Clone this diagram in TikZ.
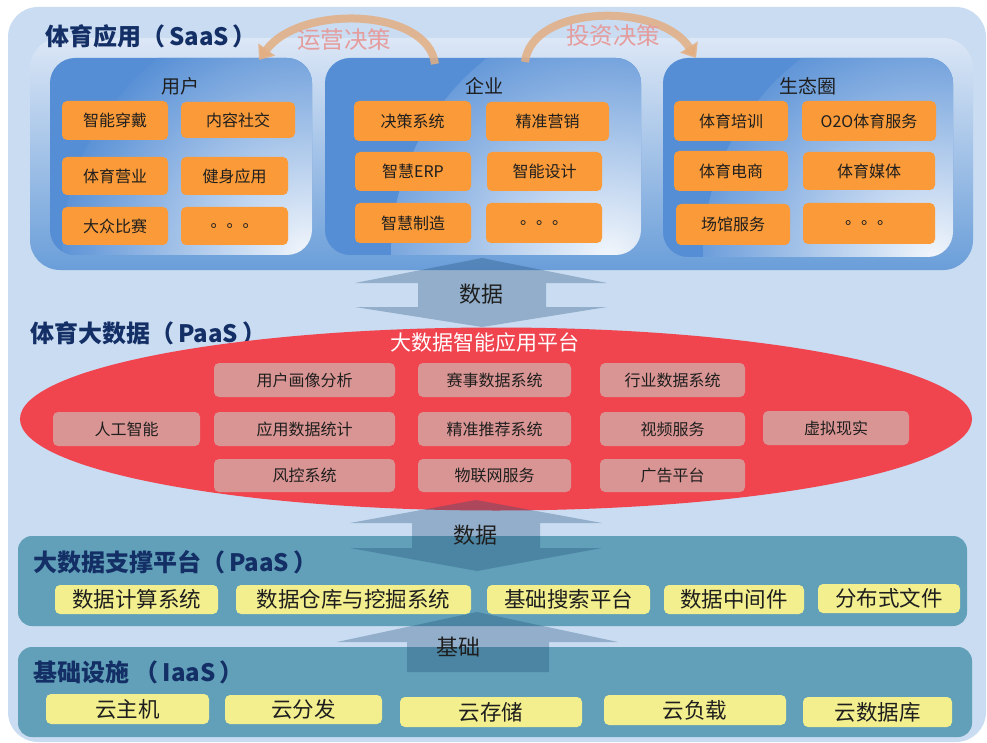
\documentclass[tikz,border=0pt]{standalone}
\usepackage{fontspec}
\setmainfont{Noto Sans CJK SC}
\usetikzlibrary{shapes.geometric,arrows.meta}
\definecolor{bgblue}{HTML}{C9DCF1}
\definecolor{saastop}{HTML}{DCE7F6}
\definecolor{saasmid}{HTML}{A9C5EA}
\definecolor{saasbot}{HTML}{6A9ED9}
\definecolor{panelblue}{HTML}{558ED5}
\definecolor{orangebox}{HTML}{FA9A38}
\definecolor{ellred}{HTML}{F0444F}
\definecolor{pinkbox}{HTML}{D99593}
\definecolor{tealpanel}{HTML}{61A0B8}
\definecolor{yellowbox}{HTML}{F3EF8F}
\definecolor{navy}{HTML}{132F66}
\definecolor{txtdark}{HTML}{1E1E1E}
\definecolor{arrowgray}{HTML}{1F4E79}
\definecolor{arrowtan}{HTML}{E3AE82}
\definecolor{decpink}{HTML}{E59C9C}
\newcommand\mkbox[7]{%
  \pgfmathsetmacro\mycx{(#3+#5)/2}\pgfmathsetmacro\mycy{(#4+#6)/2}%
  \pgfmathsetmacro\myww{#5-#3}\pgfmathsetmacro\myhh{#6-#4}%
  \node[#1, minimum width=\myww pt, minimum height=\myhh pt] (#2) at (\mycx,\mycy) {#7};}
\begin{document}
\begin{tikzpicture}[x=1pt,y=-1pt,
  obox/.style={fill=orangebox, rounded corners=5pt, inner sep=0pt, text=txtdark, font=\fontsize{16}{16}\selectfont},
  pbox/.style={fill=pinkbox, rounded corners=5pt, inner sep=0pt, text=txtdark, font=\fontsize{16}{16}\selectfont},
  ybox/.style={fill=yellowbox, rounded corners=5pt, inner sep=0pt, text=txtdark, font=\fontsize{21.5}{21.5}\selectfont},
  panel/.style={fill=panelblue, rounded corners=25pt, inner sep=0pt,
    path picture={\shade[inner color=white!92!panelblue, outer color=panelblue] (path picture bounding box.south east) circle[radius=250pt];}},
  teal/.style={fill=tealpanel, rounded corners=14pt, inner sep=0pt},
  title/.style={anchor=west, inner sep=0pt, text=navy, font=\fontsize{24}{24}\selectfont\bfseries},
  plabel/.style={text=txtdark, font=\fontsize{19}{19}\selectfont},
  biglabel/.style={text=txtdark, font=\fontsize{22}{22}\selectfont},
  dblarrow/.style={fill=arrowgray, fill opacity=0.32},
  curved/.style={draw=arrowtan, line width=8pt, draw opacity=0.85, -{Triangle[width=20pt,length=13pt]}},
  declabel/.style={text=decpink, font=\fontsize{23.5}{23.5}\selectfont}
]
\useasboundingbox (0,0) rectangle (987,743);
\fill[white] (0,0) rectangle (987,743);
\fill[bgblue, rounded corners=30pt] (8,7) rectangle (986,742);

% ---------- SaaS layer ----------
\shade[top color=saastop, middle color=saasmid, bottom color=saasbot, rounded corners=30pt] (30,38) rectangle (973,270);
\node[title] (t1) at (45,36) {体育应用（\,SaaS\,）};

\mkbox{panel}{pu}{50}{58}{312}{255}{}
\mkbox{panel}{pe}{325}{58}{641}{255}{}
\mkbox{panel}{ps}{663}{58}{953}{257}{}
\node[plabel] (lu) at (180,86) {用户};
\node[plabel] (le) at (484,86) {企业};
\node[plabel] (ls) at (808,86) {生态圈};

\mkbox{obox}{u1}{62}{101}{168}{140}{智能穿戴}
\mkbox{obox}{u2}{181}{102}{295}{138}{内容社交}
\mkbox{obox}{u3}{62}{157}{168}{195}{体育营业}
\mkbox{obox}{u4}{181}{157}{288}{195}{健身应用}
\mkbox{obox}{u5}{62}{207}{168}{245}{大众比赛}
\mkbox{obox}{u6}{181}{207}{288}{245}{。。。}

\mkbox{obox}{e1}{354}{101}{471}{141}{决策系统}
\mkbox{obox}{e2}{486}{102}{609}{141}{精准营销}
\mkbox{obox}{e3}{355}{152}{471}{191}{智慧ERP}
\mkbox{obox}{e4}{487}{152}{602}{191}{智能设计}
\mkbox{obox}{e5}{355}{203}{471}{243}{智慧制造}
\mkbox{obox}{e6}{486}{203}{602}{243}{。。。}

\mkbox{obox}{s1}{674}{101}{788}{141}{体育培训}
\mkbox{obox}{s2}{802}{101}{936}{141}{O2O体育服务}
\mkbox{obox}{s3}{674}{151}{788}{191}{体育电商}
\mkbox{obox}{s4}{803}{152}{935}{190}{体育媒体}
\mkbox{obox}{s5}{676}{204}{790}{245}{场馆服务}
\mkbox{obox}{s6}{803}{203}{935}{244}{。。。}

% curved decision arrows
\coordinate (op1) at (435,64);
\coordinate (op2) at (259,60);
\coordinate (iv1) at (525,62);
\coordinate (iv2) at (696,58);
\draw[curved] (op1) .. controls (428,8) and (300,4) .. (op2);
\draw[curved] (iv1) .. controls (532,4) and (660,2) .. (iv2);
\node[declabel] (dop) at (344,40) {运营决策};
\node[declabel] (div) at (613,36) {投资决策};

% ---------- PaaS big data layer ----------
\node[title] (t2) at (30,333) {体育大数据（\,PaaS\,）};
\node[ellipse, fill=ellred, minimum width=952pt, minimum height=183pt, inner sep=0pt] (ell) at (496,419) {};
\node[text=white, font=\fontsize{21}{21}\selectfont] (ellt) at (485,343) {大数据智能应用平台};

\mkbox{pbox}{p1}{214}{363}{395}{397}{用户画像分析}
\mkbox{pbox}{p2}{418}{363}{571}{397}{赛事数据系统}
\mkbox{pbox}{p3}{600}{363}{745}{397}{行业数据系统}
\mkbox{pbox}{p4}{53}{412}{200}{446}{人工智能}
\mkbox{pbox}{p5}{214}{412}{395}{446}{应用数据统计}
\mkbox{pbox}{p6}{418}{412}{571}{446}{精准推荐系统}
\mkbox{pbox}{p7}{600}{412}{745}{446}{视频服务}
\mkbox{pbox}{p8}{763}{411}{909}{445}{虚拟现实}
\mkbox{pbox}{p9}{214}{459}{395}{492}{风控系统}
\mkbox{pbox}{p10}{418}{459}{571}{492}{物联网服务}
\mkbox{pbox}{p11}{600}{459}{745}{492}{广告平台}

% ---------- support platform & infrastructure panels ----------
\mkbox{teal}{l3}{18}{536}{967}{626}{}
\mkbox{teal}{l4}{18}{647}{972}{737}{}
\node[title] (t3) at (33,562) {大数据支撑平台（\,PaaS\,）};
\node[title] (t4) at (33,672) {基础设施 （\,IaaS\,）};

% ---------- double arrows ----------
\fill[dblarrow] (482,258) -- (607,283) -- (546,283) -- (546,307) -- (607,307) -- (482,327)
  -- (355,307) -- (418,307) -- (418,283) -- (355,283) -- cycle;
\node[biglabel] (a1) at (481,294) {数据};
\fill[dblarrow] (476,500) -- (602,523) -- (540,523) -- (540,548) -- (602,548) -- (477,571)
  -- (350,548) -- (412,548) -- (412,523) -- (350,523) -- cycle;
\node[biglabel] (a2) at (475,535) {数据};
\fill[dblarrow] (477,612) -- (618,642) -- (549,642) -- (549,672) -- (407,672) -- (407,642) -- (337,642) -- cycle;
\node[biglabel] (a3) at (458,647) {基础};

\mkbox{ybox}{y1}{55}{585}{218}{614}{数据计算系统}
\mkbox{ybox}{y2}{236}{585}{471}{614}{数据仓库与挖掘系统}
\mkbox{ybox}{y3}{487}{585}{650}{614}{基础搜索平台}
\mkbox{ybox}{y4}{664}{585}{804}{614}{数据中间件}
\mkbox{ybox}{y5}{818}{584}{960}{613}{分布式文件}

\mkbox{ybox}{c1}{46}{694}{209}{724}{云主机}
\mkbox{ybox}{c2}{225}{695}{382}{724}{云分发}
\mkbox{ybox}{c3}{400}{697}{582}{727}{云存储}
\mkbox{ybox}{c4}{604}{695}{786}{725}{云负载}
\mkbox{ybox}{c5}{803}{697}{952}{727}{云数据库}
\end{tikzpicture}
\end{document}
